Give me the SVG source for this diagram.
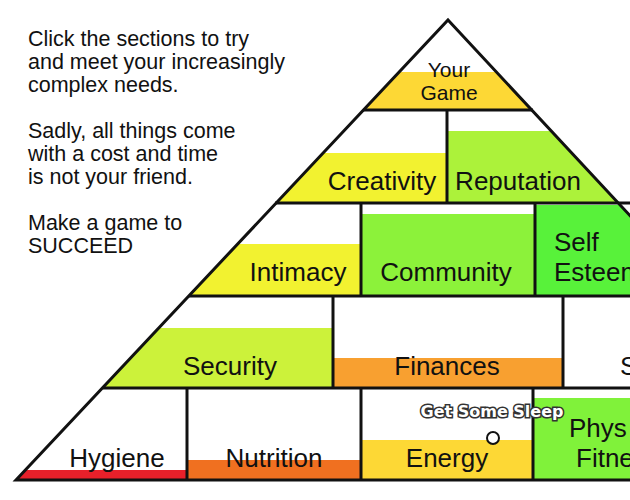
<svg xmlns="http://www.w3.org/2000/svg" width="630" height="500" viewBox="0 0 630 500">
<style>
.t{font-family:"Liberation Sans",Arial,sans-serif;font-size:26px;fill:#111;text-anchor:middle}
.i{font-family:"Liberation Sans",Arial,sans-serif;font-size:21.5px;fill:#111}
.ln{stroke:#111;stroke-width:3;fill:none}
</style>
<defs><clipPath id="tri"><polygon points="448,20 876,480 16,480"/></clipPath></defs>
<rect width="630" height="500" fill="#fff"/>
<g class="i"><text x="28" y="46">Click the sections to try</text><text x="28" y="69">and meet your increasingly</text><text x="28" y="92">complex needs.</text><text x="28" y="138">Sadly, all things come</text><text x="28" y="161">with a cost and time</text><text x="28" y="184">is not your friend.</text><text x="28" y="230">Make a game to</text><text x="28" y="253">SUCCEED</text></g>
<g clip-path="url(#tri)">
<g id="your-game"><rect x="300" y="72" width="300" height="38" fill="#fdd835"/><text class="t" x="449" y="77" style="font-size:21px">Your</text><text class="t" x="449" y="100" style="font-size:21px">Game</text></g>
<g id="creativity"><rect x="200" y="153" width="247" height="50" fill="#f2f230"/><text class="t" x="382" y="190">Creativity</text></g>
<g id="reputation"><rect x="447" y="131" width="250" height="72" fill="#acf23a"/><text class="t" x="518" y="190">Reputation</text></g>
<g id="intimacy"><rect x="150" y="244" width="211" height="52" fill="#f2f230"/><text class="t" x="298" y="281">Intimacy</text></g>
<g id="community"><rect x="361" y="214" width="174" height="82" fill="#8cf23a"/><text class="t" x="446" y="281">Community</text></g>
<g id="self-esteem"><rect x="535" y="205" width="200" height="91" fill="#58f23a"/><text class="t" x="554" y="251" style="text-anchor:start">Self</text><text class="t" x="554" y="281" style="text-anchor:start">Esteem</text></g>
<g id="security"><rect x="80" y="328" width="253" height="60" fill="#ccf23a"/><text class="t" x="230" y="375">Security</text></g>
<g id="finances"><rect x="333" y="358" width="230" height="30" fill="#f8a030"/><text class="t" x="447" y="375">Finances</text></g>
<g id="safety"><text class="t" x="620" y="375" style="text-anchor:start">S</text></g>
<g id="hygiene"><rect x="0" y="470" width="187" height="10" fill="#e8202a"/><text class="t" x="117" y="467">Hygiene</text></g>
<g id="nutrition"><rect x="187" y="460" width="174" height="20" fill="#f07020"/><text class="t" x="274" y="467">Nutrition</text></g>
<g id="energy"><rect x="361" y="440" width="172" height="40" fill="#fdd835"/><text class="t" x="447" y="467">Energy</text></g>
<g id="physical-fitness"><rect x="533" y="398" width="300" height="82" fill="#80f23a"/><text class="t" x="569" y="437" style="text-anchor:start">Phys</text><text class="t" x="576" y="467" style="text-anchor:start">Fitne</text></g>
</g>
<g id="connectors" class="ln">
<polygon points="448,20 876,480 16,480"/>
<line x1="363" y1="110" x2="533" y2="110"/>
<line x1="275" y1="203" x2="630" y2="203"/>
<line x1="189" y1="296" x2="630" y2="296"/>
<line x1="103" y1="388" x2="630" y2="388"/>
<line x1="447" y1="110" x2="447" y2="203"/>
<line x1="361" y1="203" x2="361" y2="296"/>
<line x1="535" y1="203" x2="535" y2="296"/>
<line x1="333" y1="296" x2="333" y2="388"/>
<line x1="563" y1="296" x2="563" y2="388"/>
<line x1="187" y1="388" x2="187" y2="480"/>
<line x1="361" y1="388" x2="361" y2="480"/>
<line x1="533" y1="388" x2="533" y2="480"/>
</g>
<g id="sleep">
<text x="492" y="417" style="font-family:'DejaVu Sans',sans-serif;font-weight:bold;font-size:16px;text-anchor:middle;fill:#fff;stroke:#333;stroke-width:3;paint-order:stroke">Get Some Sleep</text>
<circle cx="493" cy="438" r="6" fill="#fff" stroke="#111" stroke-width="2"/>
</g>
</svg>
